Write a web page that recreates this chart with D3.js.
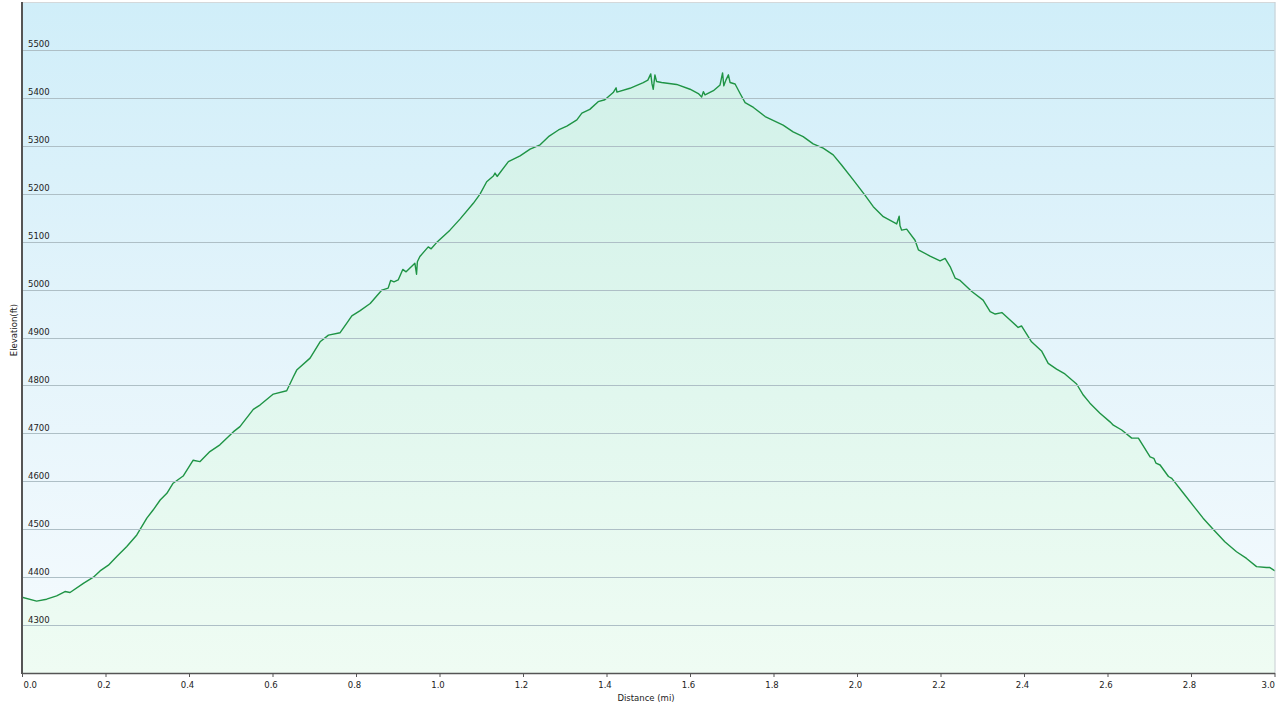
<!DOCTYPE html>
<html><head><meta charset="utf-8">
<script src="https://cdn.jsdelivr.net/npm/d3@7"></script>
<style>
html,body{margin:0;padding:0;background:#fff;}
svg{display:block;}
text{font-family:"DejaVu Sans",Verdana,sans-serif;}
</style></head><body>
<svg id="c" width="1280" height="709"></svg>
<script>
const distanceMi = [0,0.035,0.059,0.083,0.103,0.115,0.147,0.171,0.187,0.207,0.227,0.251,0.275,0.299,0.314,0.331,0.347,0.362,0.386,0.410,0.426,0.450,0.474,0.506,0.522,0.554,0.570,0.602,0.634,0.650,0.658,0.690,0.714,0.734,0.762,0.778,0.790,0.810,0.834,0.862,0.877,0.883,0.891,0.901,0.912,0.920,0.941,0.945,0.947,0.953,0.973,0.980,0.993,1.025,1.049,1.081,1.097,1.113,1.129,1.133,1.138,1.165,1.193,1.217,1.241,1.261,1.285,1.305,1.329,1.341,1.360,1.380,1.396,1.416,1.423,1.425,1.456,1.488,1.499,1.506,1.509,1.512,1.516,1.520,1.532,1.568,1.600,1.620,1.628,1.632,1.636,1.656,1.672,1.678,1.681,1.686,1.692,1.696,1.708,1.720,1.732,1.752,1.780,1.823,1.847,1.871,1.895,1.919,1.943,1.963,1.991,2.019,2.039,2.063,2.095,2.101,2.103,2.107,2.119,2.139,2.147,2.175,2.199,2.211,2.223,2.235,2.247,2.275,2.302,2.319,2.331,2.347,2.366,2.386,2.394,2.418,2.442,2.458,2.478,2.498,2.526,2.542,2.558,2.582,2.606,2.614,2.634,2.658,2.674,2.702,2.711,2.716,2.726,2.746,2.754,2.782,2.810,2.829,2.853,2.881,2.909,2.933,2.957,2.981,2.989,3.001];
const elevationFt = [4358,4350,4354,4361,4370,4368,4387,4400,4413,4425,4443,4464,4488,4523,4540,4561,4575,4596,4611,4644,4641,4662,4676,4703,4714,4750,4759,4782,4789,4818,4832,4857,4891,4905,4910,4930,4945,4956,4971,4999,5003,5019,5016,5020,5042,5037,5055,5032,5058,5069,5089,5085,5098,5124,5147,5180,5199,5225,5237,5243,5236,5267,5279,5293,5302,5319,5333,5341,5354,5368,5376,5392,5396,5411,5421,5412,5420,5432,5437,5450,5429,5418,5448,5434,5432,5428,5418,5409,5402,5413,5406,5415,5427,5452,5425,5437,5448,5432,5429,5409,5390,5380,5361,5343,5329,5319,5304,5295,5281,5260,5229,5197,5173,5152,5137,5153,5133,5124,5126,5103,5083,5070,5060,5065,5048,5024,5019,4996,4978,4954,4949,4952,4937,4921,4924,4891,4872,4846,4834,4824,4803,4780,4763,4742,4724,4717,4707,4690,4690,4651,4648,4638,4634,4610,4606,4575,4544,4523,4500,4474,4453,4439,4422,4420,4420,4413];
const xTicks = [0,0.2,0.4,0.6,0.8,1.0,1.2,1.4,1.6,1.8,2.0,2.2,2.4,2.6,2.8,3.0];
const yTicks = [4300,4400,4500,4600,4700,4800,4900,5000,5100,5200,5300,5400,5500];
const xTitle = "Distance  (mi)";
const yTitle = "Elevation(ft)";

const svg = d3.select("#c");
const L = 22, R = 1274.5, T = 2, B = 673;
const x = d3.scaleLinear().domain([0,3.0]).range([L,R]);
const y = d3.scaleLinear().domain([4200,5600]).range([B,T]);
const data = distanceMi.map((d,i)=>({d, e: elevationFt[i]}));

const defs = svg.append("defs");
const sky = defs.append("linearGradient").attr("id","sky").attr("x1",0).attr("y1",0).attr("x2",0).attr("y2",1);
sky.append("stop").attr("offset","0%").attr("stop-color","#d0eef9");
sky.append("stop").attr("offset","50%").attr("stop-color","#e4f4fb");
sky.append("stop").attr("offset","100%").attr("stop-color","#f6fbfe");
const grn = defs.append("linearGradient").attr("id","grn").attr("gradientUnits","userSpaceOnUse")
  .attr("x1",0).attr("y1",T).attr("x2",0).attr("y2",B);
grn.append("stop").attr("offset","0%").attr("stop-color","#cff0e8");
grn.append("stop").attr("offset","50%").attr("stop-color","#def6ed");
grn.append("stop").attr("offset","100%").attr("stop-color","#effcf3");
defs.append("clipPath").attr("id","clip").append("rect").attr("x",L).attr("y",T).attr("width",R-L+1).attr("height",B-T);

// plot background
svg.append("rect").attr("x",L).attr("y",T).attr("width",R-L+1).attr("height",B-T).attr("fill","url(#sky)");

// area
const g = svg.append("g").attr("clip-path","url(#clip)");
g.append("path").datum(data)
  .attr("d", d3.area().x(p=>x(p.d)).y0(B).y1(p=>y(p.e)))
  .attr("fill","url(#grn)");

// gridlines
svg.append("g").selectAll("line").data(yTicks).join("line")
  .attr("x1",L).attr("x2",R).attr("y1",d=>Math.round(y(d))+0.5).attr("y2",d=>Math.round(y(d))+0.5)
  .attr("stroke","#aebfc6").attr("stroke-width",1);

// line
g.append("path").datum(data)
  .attr("d", d3.line().x(p=>x(p.d)).y(p=>y(p.e)))
  .attr("fill","none").attr("stroke","#1f9445").attr("stroke-width",1.4).attr("stroke-linejoin","round");

// borders
svg.append("line").attr("x1",L).attr("x2",R+0.5).attr("y1",T+0.5).attr("y2",T+0.5).attr("stroke","#d4d8da");
svg.append("line").attr("x1",R+0.5).attr("x2",R+0.5).attr("y1",T).attr("y2",B).attr("stroke","#c9cfd2");

// y labels
svg.append("g").selectAll("text").data(yTicks).join("text")
  .attr("x",28).attr("y",d=>y(d)-2.5).attr("font-size",8.5).attr("fill","#222").text(d=>d);

// x axis
const xAxis = d3.axisBottom(x).tickValues(xTicks).tickFormat(d3.format(".1f")).tickSize(4).tickSizeOuter(0);
const ax = svg.append("g").attr("transform",`translate(0,${B})`).call(xAxis);
ax.select(".domain").attr("stroke","#555").attr("stroke-width",1.5);
ax.selectAll(".tick line").attr("stroke","#555");
ax.selectAll(".tick text").attr("font-size",8.5).attr("fill","#222").attr("dy",0).attr("y",15).attr("x",-2)
  .style("font-family",'"DejaVu Sans",Verdana,sans-serif');
ax.selectAll(".tick text").filter(d=>d===xTicks[0]).attr("text-anchor","start").attr("x",1);
ax.selectAll(".tick text").filter(d=>d===xTicks[xTicks.length-1]).attr("text-anchor","end").attr("x",0);

// left axis line
svg.append("line").attr("x1",L).attr("x2",L).attr("y1",T).attr("y2",B+1).attr("stroke","#555").attr("stroke-width",2);

// titles
svg.append("text").attr("x",646).attr("y",701).attr("text-anchor","middle").attr("font-size",8.5).attr("fill","#222").text(xTitle);
svg.append("text").attr("transform","translate(16.5,330) rotate(-90)").attr("text-anchor","middle").attr("font-size",8.5).attr("fill","#222").text(yTitle);
</script>
</body></html>
